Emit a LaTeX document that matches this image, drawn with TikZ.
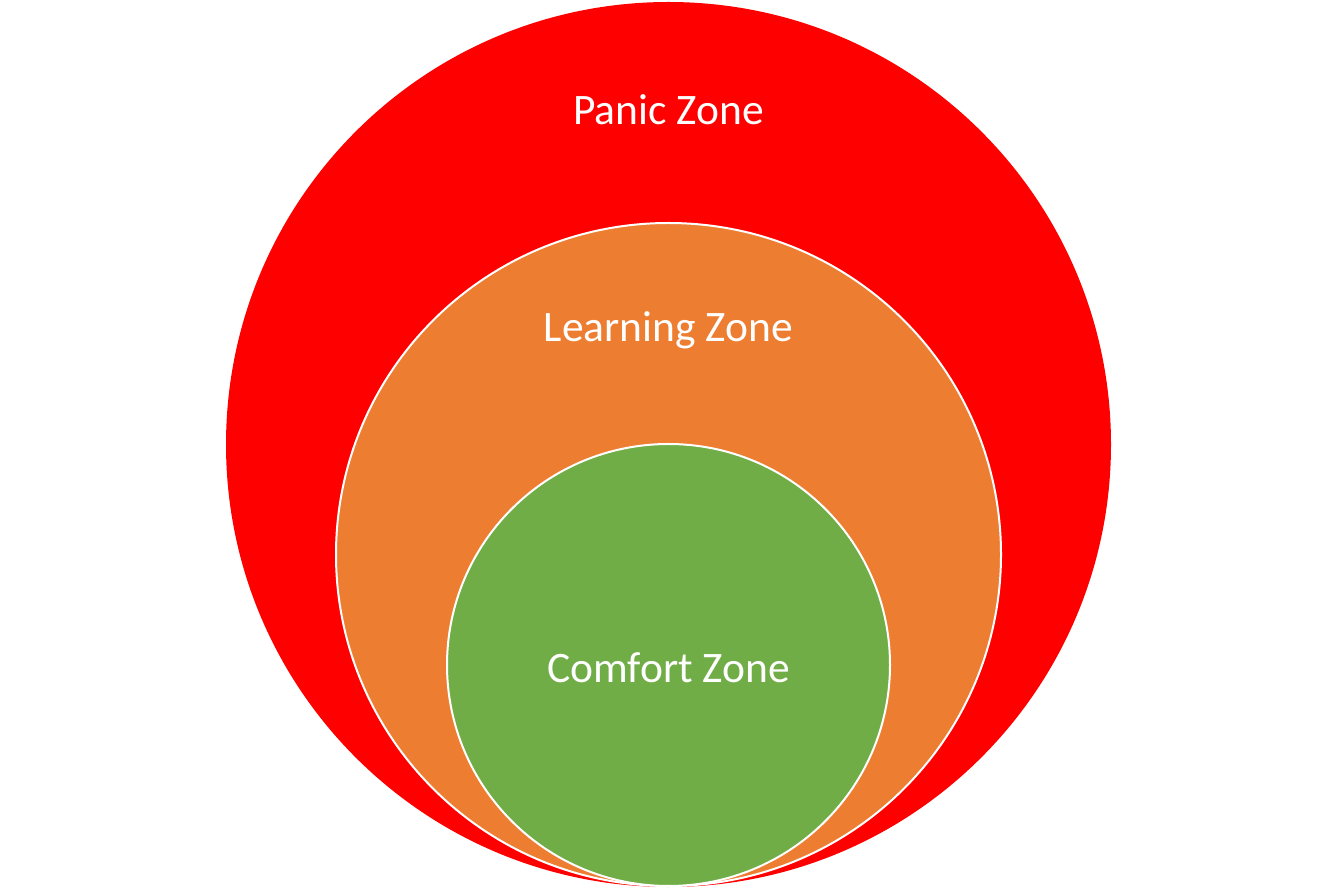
\documentclass[tikz,border=0pt]{standalone}
\usepackage{fontspec}
\setmainfont{Carlito}
\usetikzlibrary{shapes.geometric}
\definecolor{panicred}{HTML}{FF0000}
\definecolor{learnorange}{HTML}{ED7D31}
\definecolor{comfortgreen}{HTML}{70AD47}
\tikzset{
  zone/.style={ellipse, inner sep=0pt, outer sep=0pt},
  ring/.style={zone, draw=white, line width=2pt},
  zonelabel/.style={text=white, font=\fontsize{43.5}{52}\selectfont, anchor=base, inner sep=0pt}
}
\begin{document}
\begin{tikzpicture}[x=1pt,y=1pt]
  \useasboundingbox (0,0) rectangle (1335,889);
  % outer zone
  \node[zone, fill=panicred, minimum width=885pt, minimum height=885pt] (panic) at (668.5,444.5) {};
  % middle zone
  \node[ring, fill=learnorange, minimum width=665pt, minimum height=663pt] (learning) at (668.5,334.5) {};
  % inner zone
  \node[ring, fill=comfortgreen, minimum width=443pt, minimum height=442pt] (comfort) at (668.5,224) {};
  % labels
  \node[zonelabel] (panictext) at (668.5,764) {Panic Zone};
  \node[zonelabel] (learningtext) at (668.5,547) {Learning Zone};
  \node[zonelabel] (comforttext) at (668.5,206) {Comfort Zone};
\end{tikzpicture}
\end{document}
